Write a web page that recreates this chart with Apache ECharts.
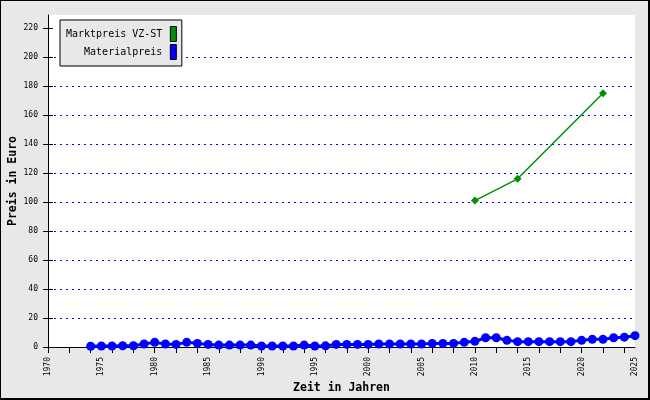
<!DOCTYPE html>
<html><head><meta charset="utf-8">
<script src="https://cdn.jsdelivr.net/npm/echarts@6/dist/echarts.min.js"></script>
<style>
html,body{margin:0;padding:0;background:#e8e8e8;}
#c{width:650px;height:400px;box-sizing:border-box;border-left:1px solid #000;border-top:1px solid #000;border-right:2px solid #000;border-bottom:2px solid #000;background:#e8e8e8;}
</style></head>
<body><div id="c"></div>
<script>
const materialYears = [1974,1975,1976,1977,1978,1979,1980,1981,1982,1983,1984,1985,1986,1987,1988,1989,1990,1991,1992,1993,1994,1995,1996,1997,1998,1999,2000,2001,2002,2003,2004,2005,2006,2007,2008,2009,2010,2011,2012,2013,2014,2015,2016,2017,2018,2019,2020,2021,2022,2023,2024,2025];
const materialPrice = [0.5,0.7,0.7,0.9,0.9,2.1,3.2,2.1,1.8,3.2,2.5,1.8,1.3,1.3,1.3,1.3,0.7,0.7,0.7,0.7,1.3,0.7,0.8,1.8,1.8,1.8,1.8,2.1,2.1,2.1,2.1,2.1,2.5,2.5,2.5,3.2,3.9,6.4,6.4,4.6,3.7,3.7,3.7,3.7,3.7,3.7,4.6,5.3,5.3,6.4,6.8,7.8];
const marketYears = [2010,2014,2022];
const marketPrice = [101,116,175];
const xTickYears = [1970,1972,1974,1976,1978,1980,1982,1984,1986,1988,1990,1992,1994,1996,1998,2000,2002,2004,2006,2008,2010,2012,2014,2016,2018,2020,2022,2024];
const xLabelYears = [1970,1975,1980,1985,1990,1995,2000,2005,2010,2015,2020,2025];
const yTicks = [0,20,40,60,80,100,120,140,160,180,200,220];
const seriesNames = ['Marktpreis VZ-ST','Materialpreis'];

const font = 'DejaVu Sans Mono';
const chart = echarts.init(document.getElementById('c'));
chart.setOption({
  animation:false,
  backgroundColor:'#e8e8e8',
  grid:{left:47,right:13,top:14,bottom:51,show:true,backgroundColor:'#fff',borderWidth:0,containLabel:false,outerBoundsMode:'none'},
  legend:{
    orient:'vertical', align:'right', left:59, top:19,
    data:seriesNames, icon:'rect',
    backgroundColor:'#e8e8e8', borderColor:'#000', borderWidth:1,
    padding:[6,5,6,6], itemGap:2, itemWidth:6, itemHeight:15,
    textStyle:{fontFamily:font,fontSize:10,color:'#000',padding:[0,3,0,0]},
    itemStyle:{borderColor:'#000',borderWidth:1}
  },
  xAxis:{
    type:'value', min:1970, max:2025,
    name:'Zeit in Jahren', nameLocation:'middle', nameGap:35, nameMoveOverlap:false,
    nameTextStyle:{fontFamily:font,fontSize:11.5,fontWeight:'bold',color:'#000'},
    axisLine:{lineStyle:{color:'#000',width:1}},
    axisTick:{show:true,length:6,lineStyle:{color:'#000'},customValues:xTickYears},
    axisLabel:{rotate:90,margin:10,fontFamily:font,fontSize:8,color:'#000',customValues:xLabelYears,formatter:v=>String(v)},
    splitLine:{show:false}
  },
  yAxis:[{
    type:'value', min:0, max:229,
    name:'Preis in Euro', nameLocation:'middle', nameGap:29, nameMoveOverlap:false,
    nameTextStyle:{fontFamily:font,fontSize:11.5,fontWeight:'bold',color:'#000'},
    axisLine:{show:true,lineStyle:{color:'#000',width:1}},
    axisTick:{show:true,length:5,lineStyle:{color:'#000'},customValues:yTicks},
    axisLabel:{margin:10,fontFamily:font,fontSize:8,color:'#000',customValues:yTicks,formatter:v=>String(v)},
    splitLine:{show:true,showMinLine:false,showMaxLine:false,lineStyle:{color:'#0000ff',type:[2,4],width:1}}
  },{
    type:'value', min:0, max:229, position:'left', offset:0,
    axisLine:{show:false},
    axisTick:{show:true,inside:true,length:5,lineStyle:{color:'#000'},customValues:yTicks},
    axisLabel:{show:false}, splitLine:{show:false}
  }],
  series:[{
    name:seriesNames[0], type:'line',
    data:marketYears.map((y,i)=>[y,marketPrice[i]]),
    color:'#009000', symbol:'diamond', symbolSize:8,
    lineStyle:{width:1.5,color:'#009000'}, itemStyle:{color:'#009000'}, z:3
  },{
    name:seriesNames[1], type:'line',
    data:materialYears.map((y,i)=>[y,materialPrice[i]]),
    color:'#0000ff', symbol:'circle', symbolSize:9,
    lineStyle:{width:3,color:'#0000ff'}, itemStyle:{color:'#0000ff'}, z:4
  }]
});
</script></body></html>
